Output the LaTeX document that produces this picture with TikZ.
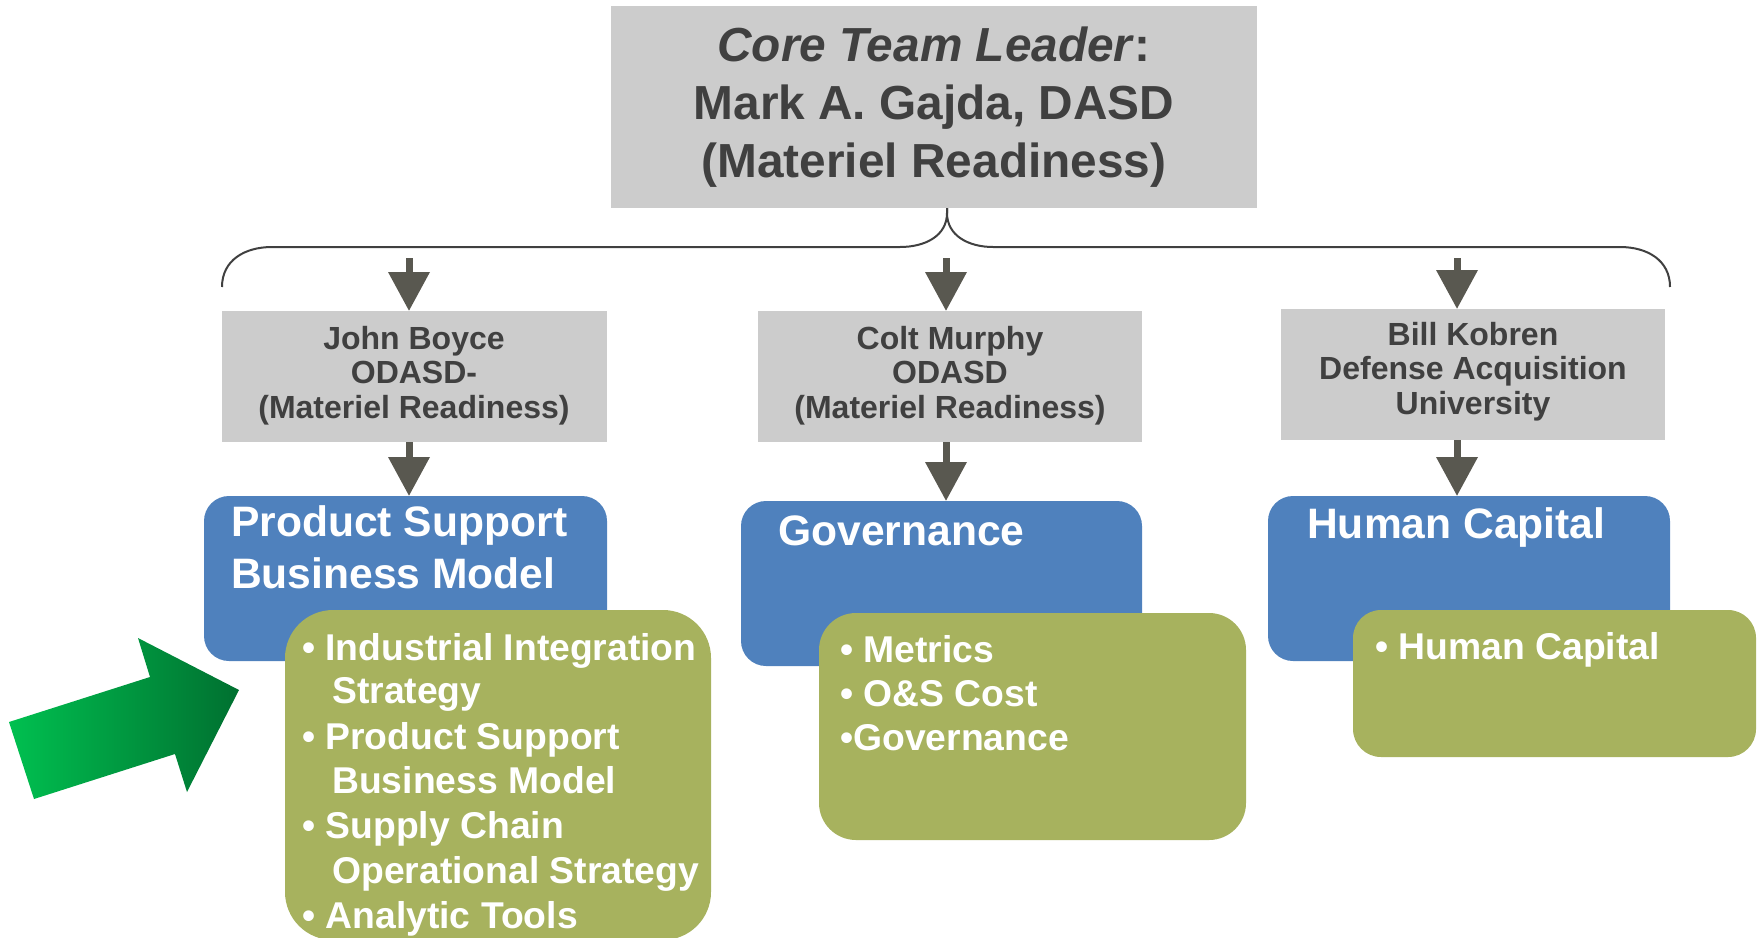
\documentclass[tikz,border=0pt]{standalone}
\usepackage{fontspec}
\setmainfont{Liberation Sans}
\usetikzlibrary{arrows.meta}
\definecolor{boxgray}{RGB}{204,204,204}
\definecolor{txtgray}{RGB}{64,64,64}
\definecolor{blueA}{RGB}{79,129,189}
\definecolor{greenA}{RGB}{167,178,94}
\definecolor{arrowgray}{RGB}{89,88,80}
\definecolor{brgreen}{RGB}{0,192,80}
\definecolor{dkgreen}{RGB}{0,112,48}
\tikzset{
  box/.style={inner sep=0pt, outer sep=0pt, draw=none},
  graybox/.style={box, fill=boxgray},
  bluebox/.style={box, fill=blueA, rounded corners=25pt},
  greenbox/.style={box, fill=greenA},
  toptext/.style={anchor=base, text=txtgray, inner sep=0pt, font=\fontsize{47.8}{56}\selectfont\bfseries},
  graytext/.style={anchor=base, text=txtgray, inner sep=0pt, font=\fontsize{32}{34}\selectfont\bfseries},
  titletext/.style={anchor=base west, text=white, inner sep=0pt, font=\fontsize{42.6}{51}\selectfont\bfseries},
  itemtext/.style={anchor=base west, text=white, inner sep=0pt, font=\fontsize{37.3}{44}\selectfont\bfseries},
  blockarrow/.style={draw=arrowgray, line width=7pt, -{Triangle[length=39pt,width=40pt]}},
  bracket/.style={draw=txtgray, line width=2pt}
}
\begin{document}
\begin{tikzpicture}[x=1pt,y=-1pt]
\useasboundingbox (0,0) rectangle (1760,937);

% top box
\node[graybox, minimum width=646pt, minimum height=202pt] (top) at (934,107) {};
\node[toptext] (top1) at (934,61) {\textit{Core Team Leader}:};
\node[toptext] (top2) at (934,119) {Mark A. Gajda, DASD};
\node[toptext] (top3) at (934,177) {(Materiel Readiness)};

% bracket
\coordinate (cusp) at (947,208);
\coordinate (bl) at (222,287);
\coordinate (br) at (1670,287);
\draw[bracket] (cusp) -- (947,213) .. controls (947,236) and (925,247) .. (900,247)
  -- (272,247) .. controls (245,247) and (222,260) .. (bl);
\draw[bracket] (cusp) -- (947,213) .. controls (947,236) and (969,247) .. (993,247)
  -- (1620,247) .. controls (1647,247) and (1670,260) .. (br);

% second level gray boxes
\node[graybox, minimum width=385pt, minimum height=131pt] (g1) at (414.5,376.5) {};
\node[graybox, minimum width=384pt, minimum height=131pt] (g2) at (950,376.5) {};
\node[graybox, minimum width=384pt, minimum height=131pt] (g3) at (1473,374.5) {};

\node[graytext] (g1a) at (414,349) {John Boyce};
\node[graytext] (g1b) at (414,383) {ODASD-};
\node[graytext] (g1c) at (414,418) {(Materiel Readiness)};
\node[graytext] (g2a) at (950,349) {Colt Murphy};
\node[graytext] (g2b) at (950,383) {ODASD};
\node[graytext] (g2c) at (950,418) {(Materiel Readiness)};
\node[graytext] (g3a) at (1473,345) {Bill Kobren};
\node[graytext] (g3b) at (1473,379) {Defense Acquisition};
\node[graytext] (g3c) at (1473,414) {University};

% top arrows
\coordinate (s1) at (409,258);
\coordinate (s2) at (946,258);
\coordinate (s3) at (1457,258);
\draw[blockarrow] (s1) -- (s1 |- g1.north);
\draw[blockarrow] (s2) -- (s2 |- g2.north);
\draw[blockarrow] (s3) -- (s3 |- g3.north);

% blue boxes
\node[bluebox, minimum width=403pt, minimum height=165pt] (b1) at (405.5,578.5) {};
\node[bluebox, minimum width=401pt, minimum height=165pt] (b2) at (941.5,583.5) {};
\node[bluebox, minimum width=402pt, minimum height=165pt] (b3) at (1469,578.5) {};

% lower arrows
\draw[blockarrow] (g1.south -| s1) -- (b1.north -| s1);
\draw[blockarrow] (g2.south -| s2) -- (b2.north -| s2);
\draw[blockarrow] (g3.south -| s3) -- (b3.north -| s3);

\node[titletext] (b1a) at (231,536) {Product Support};
\node[titletext] (b1b) at (231,588) {Business Model};
\node[titletext] (b2a) at (778,545) {Governance};
\node[titletext] (b3a) at (1307,538) {Human Capital};

% green boxes
\node[greenbox, rounded corners=48pt, minimum width=426pt, minimum height=330pt] (gr1) at (498,775) {};
\node[greenbox, rounded corners=37pt, minimum width=427pt, minimum height=227pt] (gr2) at (1032.5,726.5) {};
\node[greenbox, rounded corners=28pt, minimum width=403pt, minimum height=147pt] (gr3) at (1554.5,683.5) {};

\node[itemtext] (i1) at (302,660) {• Industrial Integration};
\node[itemtext] (i2) at (332,703) {Strategy};
\node[itemtext] (i3) at (302,749) {• Product Support};
\node[itemtext] (i4) at (332,793) {Business Model};
\node[itemtext] (i5) at (302,838) {• Supply Chain};
\node[itemtext] (i6) at (332,883) {Operational Strategy};
\node[itemtext] (i7) at (302,928) {• Analytic Tools};

\node[itemtext] (j1) at (840,662) {• Metrics};
\node[itemtext] (j2) at (840,706) {• O\&S Cost};
\node[itemtext] (j3) at (840,750) {•Governance};

\node[itemtext] (k1) at (1375,659) {• Human Capital};

% green pointer arrow
\shade[left color=brgreen, right color=dkgreen]
  (9,722) -- (150,677) -- (138,638) -- (239,690) -- (187,792) -- (175,754) -- (34,799) -- cycle;
\end{tikzpicture}
\end{document}
